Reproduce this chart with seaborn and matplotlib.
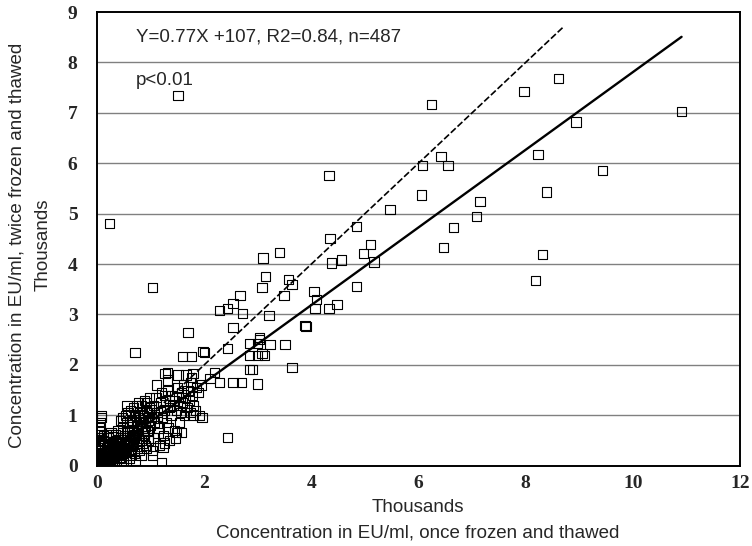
import numpy as np
import pandas as pd
import matplotlib
matplotlib.use("Agg")
import matplotlib.pyplot as plt
import seaborn as sns

# values in thousands of EU/ml
# scattered points
once_outer = [1.51, 0.24, 6.25, 8.62, 7.97, 10.91, 8.94, 8.23, 9.44, 8.39, 8.32, 8.19,
              6.42, 6.07, 6.55, 6.06, 7.15, 4.33, 5.47, 7.09, 4.85, 6.66, 4.35, 5.11,
              4.98, 6.47, 4.38, 4.57, 5.17, 4.85, 4.05, 4.09, 4.48, 4.07, 4.33,
              3.40, 3.10, 3.15, 3.64, 3.58, 3.08, 3.49, 2.67, 2.54, 2.43, 2.29, 2.72,
              3.21, 3.90, 2.54, 1.70, 1.04, 1.98, 2.44, 2.85, 3.04, 3.23, 3.51, 1.59,
              1.77, 2.85, 3.00, 3.13, 2.85, 2.90, 3.64, 1.27, 1.79, 0.71, 2.01, 1.31,
              0.09, 1.96, 2.43, 1.49, 1.58, 1.21, 1.23, 1.03, 2.29, 2.54, 2.70, 2.99,
              2.20, 2.11, 3.04, 2.99, 3.08, 3.88, 1.79, 1.92]
twice_outer = [7.35, 4.81, 7.17, 7.68, 7.42, 7.02, 6.82, 6.18, 5.86, 5.43, 4.19, 3.68,
               6.14, 5.95, 5.95, 5.37, 5.24, 5.75, 5.09, 4.95, 4.75, 4.73, 4.51, 4.39,
               4.21, 4.33, 4.02, 4.08, 4.04, 3.56, 3.46, 3.30, 3.20, 3.12, 3.12,
               4.23, 4.12, 3.76, 3.60, 3.70, 3.54, 3.38, 3.38, 3.22, 3.12, 3.08, 3.02,
               2.98, 2.76, 2.74, 2.64, 3.54, 2.27, 2.33, 2.43, 2.50, 2.41, 2.41, 2.17,
               2.17, 2.19, 2.19, 2.19, 1.91, 1.91, 1.95, 1.83, 1.83, 2.25, 2.25, 1.85,
               0.99, 0.96, 0.56, 0.66, 0.66, 0.06, 0.36, 0.20, 1.65, 1.65, 1.65, 1.62,
               1.85, 1.73, 2.55, 2.43, 2.22, 2.78, 1.00, 1.00]

# dense cluster near the origin (estimated)
once_cluster = [0.02, 0.03, 0.05, 0.04, 0.06, 0.08, 0.07, 0.10, 0.09, 0.12, 0.11, 0.13, 0.15, 0.14, 0.16, 0.18, 0.17, 0.20, 0.19, 0.22,
                0.21, 0.24, 0.23, 0.26, 0.25, 0.28, 0.27, 0.30, 0.29, 0.32, 0.31, 0.34, 0.33, 0.36, 0.35, 0.38, 0.37, 0.40, 0.39, 0.42,
                0.05, 0.08, 0.12, 0.15, 0.18, 0.22, 0.26, 0.30, 0.34, 0.38, 0.03, 0.06, 0.10, 0.14, 0.02, 0.07, 0.11, 0.16, 0.20, 0.25,
                0.03, 0.04, 0.05, 0.06, 0.08,
                0.42, 0.44, 0.46, 0.48, 0.50, 0.52, 0.54, 0.56, 0.58, 0.60, 0.62, 0.64, 0.66, 0.68, 0.70, 0.72, 0.74, 0.76, 0.78, 0.80,
                0.82, 0.84, 0.86, 0.88, 0.90, 0.92, 0.94, 0.96, 0.98, 1.00, 0.45, 0.50, 0.55, 0.60, 0.65, 0.70, 0.75, 0.80, 0.85, 0.90,
                0.95, 0.48, 0.53, 0.58, 0.63, 0.68, 0.73, 0.78, 0.83, 0.88, 0.93, 0.98, 0.43, 0.47, 0.57, 0.67, 0.77, 0.87, 0.97, 0.62,
                0.72, 0.82, 0.92, 0.52, 0.44, 0.56, 0.66, 0.76, 0.86, 0.96,
                1.02, 1.05, 1.08, 1.10, 1.12, 1.15, 1.18, 1.20, 1.22, 1.25, 1.28, 1.30, 1.32, 1.35, 1.38, 1.40, 1.42, 1.45, 1.48, 1.50,
                1.52, 1.55, 1.58, 1.60, 1.62, 1.65, 1.68, 1.70, 1.72, 1.75, 1.78, 1.80, 1.85, 1.90, 1.95, 1.06, 1.14, 1.24, 1.34, 1.44,
                1.54, 1.64, 1.74, 1.84, 1.03, 1.16, 1.26, 1.36, 1.46, 1.56, 1.66, 1.76, 1.11, 1.31, 1.51,
                0.01, 0.04, 0.07, 0.09, 0.11, 0.13, 0.16, 0.19, 0.21, 0.23, 0.27, 0.29, 0.31, 0.35, 0.37, 0.41, 0.45, 0.49, 0.53, 0.57,
                0.02, 0.05, 0.09, 0.13, 0.17, 0.21, 0.25, 0.29, 0.33, 0.37, 0.41, 0.46, 0.51, 0.55, 0.61, 0.65, 0.69, 0.74, 0.79, 0.84,
                0.01, 0.06, 0.12, 0.18, 0.24, 0.28, 0.32, 0.36, 0.40, 0.44, 0.48, 0.54, 0.59, 0.64, 0.71, 0.81, 0.91, 1.01, 1.13, 1.27]
twice_cluster = [0.03, 0.06, 0.02, 0.10, 0.08, 0.05, 0.15, 0.09, 0.20, 0.12, 0.25, 0.06, 0.14, 0.30, 0.18, 0.10, 0.24, 0.16, 0.35, 0.12,
                 0.28, 0.20, 0.38, 0.15, 0.30, 0.22, 0.42, 0.18, 0.34, 0.26, 0.45, 0.20, 0.38, 0.30, 0.50, 0.24, 0.40, 0.33, 0.52, 0.28,
                 0.45, 0.55, 0.60, 0.48, 0.62, 0.55, 0.66, 0.58, 0.62, 0.70, 0.30, 0.40, 0.04, 0.02, 0.18, 0.70, 0.50, 0.05, 0.06, 0.08,
                 0.55, 0.75, 0.62, 0.85, 0.95,
                 0.15, 0.55, 0.35, 0.75, 0.25, 0.60, 0.45, 0.85, 0.30, 0.65, 0.50, 0.90, 0.40, 0.70, 0.55, 1.00, 0.45, 0.80, 0.60, 1.05,
                 0.50, 0.75, 0.95, 0.65, 0.85, 1.10, 0.70, 0.90, 1.15, 0.80, 0.05, 0.10, 0.20, 0.15, 0.30, 0.25, 0.35, 0.30, 0.45, 0.40,
                 0.55, 0.95, 1.00, 1.05, 1.10, 1.15, 1.20, 1.25, 1.20, 1.30, 1.25, 1.35, 0.40, 0.65, 0.70, 0.85, 0.95, 1.00, 1.05, 0.20,
                 0.10, 0.20, 0.35, 0.40, 0.90, 1.20, 0.60, 0.70, 0.60, 0.50,
                 0.95, 1.20, 0.85, 1.35, 1.05, 0.75, 1.25, 1.45, 0.95, 1.10, 1.30, 0.85, 1.50, 1.15, 1.00, 1.40, 1.20, 1.30, 1.10, 1.55,
                 1.35, 1.20, 1.45, 1.25, 1.60, 1.35, 1.15, 1.50, 1.30, 1.65, 1.40, 1.20, 1.55, 1.45, 1.60, 0.55, 0.65, 0.60, 0.75, 0.70,
                 0.85, 1.00, 1.05, 1.10, 0.30, 0.40, 0.45, 0.50, 0.55, 1.05, 1.80, 1.75, 1.60, 1.70, 1.80,
                 0.01, 0.03, 0.07, 0.04, 0.09, 0.11, 0.07, 0.13, 0.10, 0.17, 0.14, 0.21, 0.19, 0.24, 0.27, 0.23, 0.31, 0.36, 0.33, 0.41,
                 0.12, 0.22, 0.05, 0.26, 0.08, 0.32, 0.12, 0.37, 0.16, 0.43, 0.22, 0.48, 0.27, 0.60, 0.46, 0.72, 0.58, 0.66, 0.88, 0.74,
                 0.35, 0.45, 0.48, 0.02, 0.10, 0.04, 0.14, 0.08, 0.25, 0.17, 0.32, 0.28, 0.44, 0.78, 0.62, 0.92, 0.78, 1.12, 0.98, 1.40]

slope = 0.77
intercept = 0.107   # 107 EU/ml
identity_max = 8.7

x_ticks = [0, 2, 4, 6, 8, 10, 12]
y_ticks = [0, 1, 2, 3, 4, 5, 6, 7, 8, 9]

df = pd.DataFrame({"once": once_outer + once_cluster,
                   "twice": twice_outer + twice_cluster})

sns.set_style("white")
plt.rcParams['font.family'] = ['Liberation Sans', 'DejaVu Sans']

fig = plt.figure(figsize=(7.52, 5.46), dpi=100)
ax = fig.add_axes([0.129, 0.147, 0.855, 0.831])

# horizontal grid lines
for yv in y_ticks[1:-1]:
    ax.axhline(yv, color="#808080", lw=1.0, zorder=0)

sns.scatterplot(data=df, x="once", y="twice", marker="s", s=44,
                facecolor="none", edgecolor="black", linewidth=0.8, ax=ax, zorder=3)

# identity line (dashed) and regression line (solid)
xi = np.array([0, identity_max])
ax.plot(xi, xi, color="black", lw=1.2, ls=(0, (4, 1.5)), zorder=4)
xr = np.array([0, df["once"].max()])
ax.plot(xr, slope * xr + intercept, color="black", lw=1.7, zorder=4)

ax.set_xlim(0, 12)
ax.set_ylim(0, 9)
ax.set_xticks(x_ticks)
ax.set_yticks(y_ticks)
ax.set_xlabel("")
ax.set_ylabel("")
for lab in ax.get_xticklabels() + ax.get_yticklabels():
    lab.set_fontfamily("Liberation Serif")
    lab.set_fontsize(14)
    lab.set_fontweight("bold")
ax.tick_params(axis="x", direction="in", length=5, width=1, pad=7, color="black")
ax.tick_params(axis="y", length=0, pad=14)

for side in ["left", "right", "bottom", "top"]:
    ax.spines[side].set_color("black")
    ax.spines[side].set_linewidth(1.4)

ax.text(0.06, 0.945, "Y=0.77X +107, R2=0.84, n=487", transform=ax.transAxes,
        fontsize=13.5, va="center", ha="left")
ax.text(0.06, 0.85, "p<0.01", transform=ax.transAxes,
        fontsize=13.5, va="center", ha="left")

fig.text(0.556, 1 - 508 / 546, "Thousands", fontsize=13.5, ha="center", va="center")
fig.text(0.556, 1 - 533 / 546, "Concentration in EU/ml, once frozen and thawed",
         fontsize=13.5, ha="center", va="center")
fig.text(0.057, 1 - 245 / 546, "Thousands", fontsize=13.5, ha="center", va="center",
         rotation=90)
fig.text(0.022, 1 - 245 / 546, "Concentration in EU/ml, twice frozen and thawed",
         fontsize=13.5, ha="center", va="center", rotation=90)

fig.savefig("out.png", dpi=100)
